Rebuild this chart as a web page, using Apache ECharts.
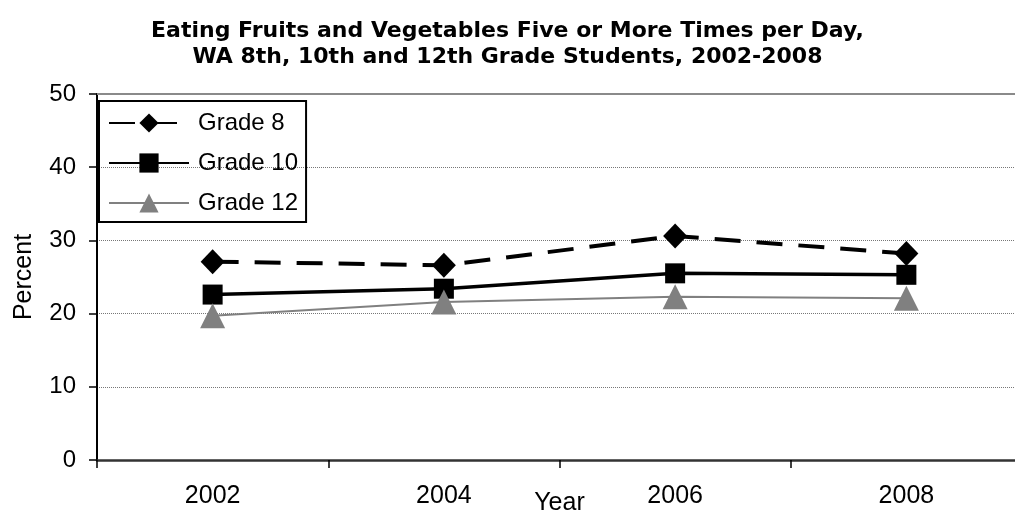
<!DOCTYPE html>
<html>
<head>
<meta charset="utf-8">
<script src="https://cdn.jsdelivr.net/npm/echarts@6/dist/echarts.min.js"></script>
<style>
  html, body { margin: 0; padding: 0; background: #fff; }
  #chart { width: 1015px; height: 514px; }
</style>
</head>
<body>
<div id="chart"></div>
<script>
// Survey years and percent of students eating fruits/vegetables 5+ times a day
const years = ['2002', '2004', '2006', '2008'];
const grade8 = [27.1, 26.6, 30.6, 28.2];
const grade10 = [22.6, 23.4, 25.5, 25.3];
const grade12 = [19.7, 21.6, 22.3, 22.1];
const yTicks = { min: 0, max: 50, step: 10 };

const font = '"Liberation Sans", Arial, sans-serif';
const chart = echarts.init(document.getElementById('chart'), null, { renderer: 'canvas' });

chart.setOption({
  animation: false,
  backgroundColor: '#ffffff',
  title: {
    text: 'Eating Fruits and Vegetables Five or More Times per Day,\nWA 8th, 10th and 12th Grade Students, 2002-2008',
    left: 'center',
    top: 13,
    textStyle: { fontFamily: '"DejaVu Sans", sans-serif', fontSize: 22, fontWeight: 'bold', color: '#000', lineHeight: 26 }
  },
  legend: {
    orient: 'vertical',
    left: 99,
    top: 101,
    padding: [10, 8, 7, 9],
    itemGap: 16,
    itemWidth: 80,
    itemHeight: 24,
    borderColor: '#000',
    borderWidth: 2,
    textStyle: { fontFamily: font, fontSize: 24, color: '#000', lineHeight: 24, padding: [0, 0, 0, 4] },
    data: ['Grade 8', 'Grade 10', 'Grade 12']
  },
  grid: { left: 97, width: 925, top: 94, bottom: 54, containLabel: false, outerBoundsMode: 'none' },
  xAxis: {
    type: 'category',
    data: years,
    boundaryGap: true,
    name: 'Year',
    nameLocation: 'middle',
    nameGap: 31,
    nameMoveOverlap: false,
    nameTextStyle: { fontFamily: font, fontSize: 25, color: '#000' },
    axisLine: { lineStyle: { color: '#333', width: 2.5 } },
    axisTick: { show: true, length: 8, lineStyle: { color: '#000', width: 1.5 } },
    axisLabel: { fontFamily: font, fontSize: 25, color: '#000', margin: 24 },
    splitLine: { show: false }
  },
  yAxis: {
    type: 'value',
    min: yTicks.min,
    max: yTicks.max,
    interval: yTicks.step,
    name: 'Percent',
    nameLocation: 'middle',
    nameGap: 60,
    nameTextStyle: { fontFamily: font, fontSize: 25, color: '#000' },
    axisLine: { show: true, lineStyle: { color: '#000', width: 2 } },
    axisTick: { show: true, length: 8, lineStyle: { color: '#000', width: 1.5 } },
    axisLabel: { fontFamily: font, fontSize: 24, color: '#000', margin: 21 },
    splitLine: { show: true, lineStyle: { color: '#777', width: 1, type: [1, 1] } }
  },
  series: [
    {
      name: 'Grade 8',
      type: 'line',
      data: grade8,
      symbol: 'diamond',
      symbolSize: [24, 25],
      itemStyle: { color: '#000' },
      lineStyle: { color: '#000', width: 4, type: [26, 16] },
      z: 3,
      markLine: {
        silent: true,
        symbol: 'none',
        label: { show: false },
        lineStyle: { color: '#8a8a8a', width: 2, type: 'solid' },
        data: [{ yAxis: yTicks.max }]
      }
    },
    {
      name: 'Grade 10',
      type: 'line',
      data: grade10,
      symbol: 'rect',
      symbolSize: 20,
      itemStyle: { color: '#000' },
      lineStyle: { color: '#000', width: 3.5 },
      z: 4
    },
    {
      name: 'Grade 12',
      type: 'line',
      data: grade12,
      symbol: 'triangle',
      symbolSize: [25, 25],
      itemStyle: { color: '#808080' },
      lineStyle: { color: '#808080', width: 2 },
      z: 5
    }
  ]
});
</script>
</body>
</html>
